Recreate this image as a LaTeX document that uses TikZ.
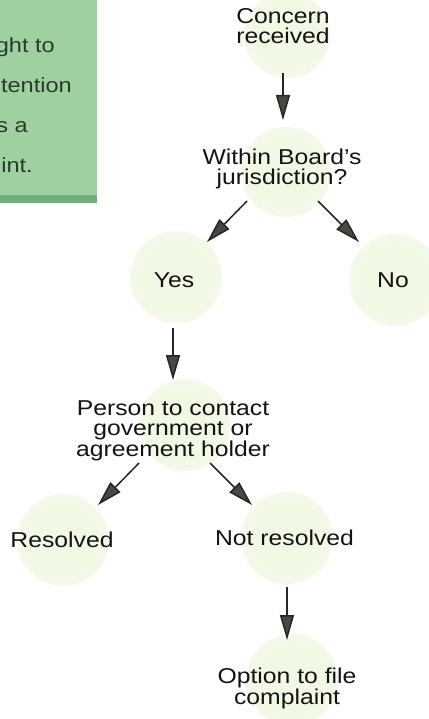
\documentclass[tikz,border=0pt]{standalone}
\usepackage{fontspec}
\usetikzlibrary{arrows.meta,calc}
\newfontfamily\flowfont[FakeStretch=1.15]{Liberation Sans}
\definecolor{boxgreen}{RGB}{158,208,162}
\definecolor{bandgreen}{RGB}{112,176,122}
\definecolor{boxtext}{RGB}{40,60,44}
\definecolor{blob}{RGB}{241,248,228}
\definecolor{tipgray}{RGB}{72,72,64}
\pgfdeclareradialshading{blobshade}{\pgfpoint{0bp}{0bp}}{color(0bp)=(blob); color(18bp)=(blob); color(50bp)=(white)}
\tikzset{
  lbl/.style={anchor=base, inner sep=0pt, align=center, font=\flowfont\fontsize{21.5}{20.5}\selectfont, text=black!92},
  boxlbl/.style={anchor=base east, inner sep=0pt, font=\flowfont\fontsize{20.5}{20}\selectfont, text=boxtext},
  arr/.style={line width=1.5pt, draw=black!85, -{Triangle[length=25pt,width=14pt,fill=tipgray]}},
  blobby/.style={shading=blobshade}
}
\begin{document}
\begin{tikzpicture}[x=1pt,y=-1pt]
\useasboundingbox (0,0) rectangle (428,719);
\fill[white] (0,0) rectangle (428,719);
% side panel
\fill[boxgreen] (0,0) rectangle (97,203);
\fill[bandgreen] (0,195) rectangle (97,203);
\begin{scope}
\clip (0,0) rectangle (97,195);
\node[boxlbl] (p1) at (55,53) {ght to};
\node[boxlbl] (p2) at (72,93) {tention};
\node[boxlbl] (p3) at (28,133) {s a};
\node[boxlbl] (p4) at (33,173) {int.};
\end{scope}
% blobs
\shade[blobby] (287,35) circle (43);
\shade[blobby] (286,172) circle (45);
\shade[blobby] (176,277) circle (46);
\shade[blobby] (395,280) circle (46);
\shade[blobby] (185,425) circle (46);
\shade[blobby] (63,540) circle (46);
\shade[blobby] (287,538) circle (46);
\shade[blobby] (292,680) circle (46);
% nodes (base = last line's baseline)
\node[lbl] (concern) at (283,44) {Concern\\received};
\node[lbl] (within) at (282,185) {Within Board’s\\jurisdiction?};
\node[lbl] (yes) at (174,287) {Yes};
\node[lbl] (no) at (393,287) {No};
\node[lbl] (person) at (173,456) {Person to contact\\government or\\agreement holder};
\node[lbl] (resolved) at (62,547) {Resolved};
\node[lbl] (notres) at (284.5,545) {Not resolved};
\node[lbl] (option) at (287,704) {Option to file\\complaint};
% connectors
\draw[arr] ($(concern.base)+(0,29)$) -- ($(within.base)+(1,-65)$);
\draw[arr] ($(within.base)+(-35,16)$) -- ($(yes.base)+(33,-45)$);
\draw[arr] ($(within.base)+(36,16)$) -- ($(no.base)+(-34,-45)$);
\draw[arr] ($(yes.base)+(-1,41)$) -- ($(person.base)+(0,-76)$);
\draw[arr] ($(person.base)+(-34,7)$) -- ($(resolved.base)+(36,-42)$);
\draw[arr] ($(person.base)+(37,7)$) -- ($(notres.base)+(-32.5,-40)$);
\draw[arr] ($(notres.base)+(2.5,42)$) -- ($(option.base)+(0,-64)$);
\end{tikzpicture}
\end{document}
